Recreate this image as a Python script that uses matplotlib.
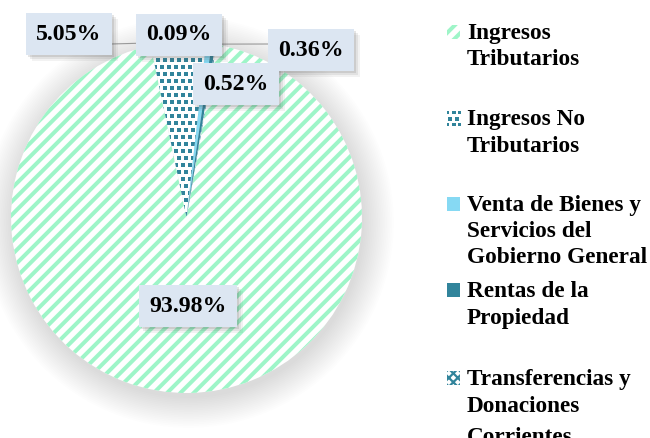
import matplotlib
matplotlib.use("Agg")
import matplotlib.pyplot as plt
from matplotlib.patches import Circle, Rectangle
from matplotlib.transforms import offset_copy
import numpy as np

# ---------------- data ----------------
categories = ["Ingresos Tributarios", "Ingresos No Tributarios",
              "Venta de Bienes y Servicios del Gobierno General",
              "Rentas de la Propiedad", "Transferencias y Donaciones Corrientes"]
legend_labels = ["Ingresos\nTributarios", "Ingresos No\nTributarios",
                 "Venta de Bienes y\nServicios del\nGobierno General",
                 "Rentas de la\nPropiedad",
                 "Transferencias y\nDonaciones\nCorrientes"]
values = [93.98, 5.05, 0.52, 0.36, 0.09]
value_labels = ["93.98%", "5.05%", "0.52%", "0.36%", "0.09%"]

# ---------------- style ----------------
GREEN = "#9ef5c8"
TEAL = "#31849b"
LIGHTBLUE = "#86d9f3"
BOXFC = "#dce6f2"
FONT = "Liberation Serif"
FS_LAB = 21.5
FS_LEG = 20.9

W, H, DPI = 650, 438, 80
CX, CY, R = 186.5, 217.5, 175.5


def d(px, py):
    return ((px - CX) / R, (CY - py) / R)


fig = plt.figure(figsize=(W / DPI, H / DPI), dpi=DPI)
fig.patch.set_facecolor("white")
ax = fig.add_axes([0, 0, 1, 1])

# soft shadow
sx, sy = 2 / R, -5 / R
for k in np.linspace(0.0, 0.17, 18):
    ax.add_patch(Circle((sx, sy), 1 + k, facecolor="black", edgecolor="none",
                        alpha=0.008, zorder=0))

wedges, _ = ax.pie(values, startangle=80.1, counterclock=False, radius=1,
                   wedgeprops=dict(linewidth=0))

styles = [
    dict(fc="white", hatch="//", hc=GREEN, hlw=3.6),
    dict(fc="white", hatch=None, hc=TEAL, hlw=1),
    dict(fc=LIGHTBLUE, hatch=None, hc=LIGHTBLUE, hlw=1),
    dict(fc=TEAL, hatch=None, hc=TEAL, hlw=1),
    dict(fc="white", hatch="xxx", hc=TEAL, hlw=2.0),
]


def set_hlw(p, v):
    if hasattr(p, "set_hatch_linewidth"):
        p.set_hatch_linewidth(v)
    else:
        p._hatch_linewidth = v


for w, st in zip(wedges, styles):
    w.set_facecolor(st["fc"])
    w.set_edgecolor(st["hc"])
    w.set_linewidth(0)
    if st["hatch"]:
        w.set_hatch(st["hatch"])
        set_hlw(w, st["hlw"])
    w.set_zorder(2)

ax.set_aspect("auto")
ax.set_xlim(d(0, 0)[0], d(W, 0)[0])
ax.set_ylim(d(0, H)[1], d(0, 0)[1])
ax.axis("off")


# confetti texture (staggered grid of small squares) clipped to a patch
def confetti(patch, x0, x1, y0, y1, step_px=7.0, size_pt=3.7):
    s = step_px / R
    gx, gy = [], []
    for r, yy in enumerate(np.arange(y0, y1, s)):
        xs = np.arange(x0 + (s / 2 if r % 2 else 0), x1, s)
        gx.extend(xs)
        gy.extend([yy] * len(xs))
    sc = ax.scatter(gx, gy, s=size_pt ** 2, marker="s", color=TEAL,
                    linewidths=0, zorder=2.5)
    sc.set_clip_path(patch)
    return sc


confetti(wedges[1], -0.3, 0.3, -0.1, 1.05)

# ---------------- leader lines ----------------
def wedge_edge_point(w):
    a = np.deg2rad((w.theta1 + w.theta2) / 2)
    return np.cos(a), np.sin(a)

for idx, (bx, by) in [(1, (111, 44)), (3, (270, 44))]:
    ex, ey = wedge_edge_point(wedges[idx])
    px0, py0 = d(bx, by)
    ax.plot([px0, ex], [py0, ey], color="#999999", lw=1.0, zorder=3,
            solid_capstyle="butt")

# ---------------- data labels ----------------
label_pos = {0: (188, 306), 1: (69, 34), 2: (236, 84), 3: (311, 50), 4: (179, 35)}
BOX = dict(boxstyle="square,pad=0.42", ec="none")
for i, s in enumerate(value_labels):
    x, y = d(*label_pos[i])
    for off, al in [(6, 0.07), (4, 0.10), (2, 0.14)]:
        tr = offset_copy(ax.transData, fig=fig, x=off, y=-off, units="dots")
        ax.text(x, y, s, transform=tr, ha="center", va="center", fontsize=FS_LAB,
                fontweight="bold", family=FONT, color=(0, 0, 0, 0),
                bbox=dict(BOX, fc=(0.3, 0.3, 0.3, al)), zorder=4)
    ax.text(x, y, s, ha="center", va="center", fontsize=FS_LAB, fontweight="bold",
            family=FONT, color="black", bbox=dict(BOX, fc=BOXFC), zorder=5)

# ---------------- legend ----------------
line_baselines = [[39, 65], [125, 152], [211, 237, 263], [297, 324], [385, 412, 443]]
for i, lab in enumerate(legend_labels):
    st = styles[i]
    bl = line_baselines[i][0]
    x0, y0 = d(447, bl)
    x1, y1 = d(460, bl - 14)
    rect = Rectangle((x0, y0), x1 - x0, y1 - y0, facecolor=st["fc"],
                     edgecolor=st["hc"], linewidth=0, hatch=st["hatch"], zorder=5)
    if st["hatch"]:
        set_hlw(rect, st["hlw"])
    ax.add_patch(rect)
    if i == 1:
        confetti(rect, x0, x1, y0, y1, step_px=6.5, size_pt=3.3).set_zorder(5.5)
    for j, line in enumerate(lab.split("\n")):
        tx, ty = d(467, line_baselines[i][j])
        ax.text(tx, ty, line, ha="left", va="baseline", fontsize=FS_LEG,
                fontweight="bold", family=FONT, color="black", zorder=5)

fig.savefig("out.png", dpi=DPI)
